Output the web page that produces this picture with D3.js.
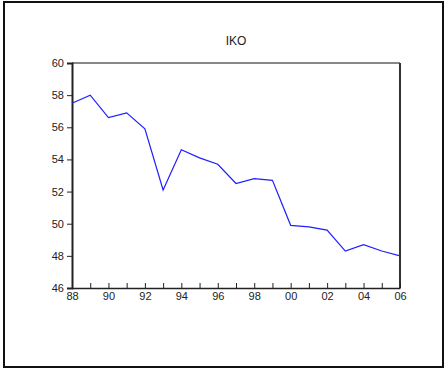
<!DOCTYPE html>
<html>
<head>
<meta charset="utf-8">
<script src="https://cdn.jsdelivr.net/npm/d3@7"></script>
<style>
  html, body { margin: 0; padding: 0; background: #fff; }
  svg { display: block; }
  text { font-family: "Liberation Sans", Arial, sans-serif; fill: #222; }
</style>
</head>
<body>
<svg id="chart" width="445" height="371"></svg>
<script>
const title = "IKO";
const years = [1988, 1989, 1990, 1991, 1992, 1993, 1994, 1995, 1996, 1997, 1998, 1999, 2000, 2001, 2002, 2003, 2004, 2005, 2006];
const values = [57.5, 58.0, 56.6, 56.9, 55.9, 52.1, 54.6, 54.1, 53.7, 52.5, 52.8, 52.7, 49.9, 49.8, 49.6, 48.3, 48.7, 48.3, 48.0];
const yTicks = [46, 48, 50, 52, 54, 56, 58, 60];
const xLabelYears = [1988, 1990, 1992, 1994, 1996, 1998, 2000, 2002, 2004, 2006];

const svg = d3.select("#chart");

// outer frame
svg.append("rect").attr("x", 4).attr("y", 2).attr("width", 439).attr("height", 365)
  .attr("fill", "none").attr("stroke", "#111").attr("stroke-width", 2);

const L = 72, R = 400, T = 63, B = 288;
const x = d3.scaleLinear().domain([1988, 2006]).range([L, R]);
const y = d3.scaleLinear().domain([46, 60]).range([B, T]);

// title
svg.append("text").attr("x", (L + R) / 2).attr("y", 45).attr("text-anchor", "middle")
  .attr("font-size", 12).text(title);

// frame top/right
svg.append("line").attr("x1", L).attr("x2", R).attr("y1", T).attr("y2", T)
  .attr("stroke", "#111").attr("stroke-width", 1);
svg.append("line").attr("x1", R).attr("x2", R).attr("y1", T).attr("y2", B)
  .attr("stroke", "#333").attr("stroke-width", 2);

// y axis
const yAxis = d3.axisLeft(y).tickValues(yTicks).tickSize(5).tickPadding(3).tickFormat(d3.format("d"));
const gy = svg.append("g").attr("transform", `translate(${L},0)`).call(yAxis);
gy.select(".domain").attr("stroke", "#222").attr("stroke-width", 2);
gy.selectAll(".tick line").attr("stroke", "#222");
gy.selectAll(".tick text").attr("font-size", 11).attr("font-family", "Liberation Sans, Arial, sans-serif").attr("fill", "#222");

// x axis: ticks every year pointing inward, labels every 2 years
const xAxis = d3.axisBottom(x).tickValues(years).tickSize(-5).tickSizeOuter(0)
  .tickFormat(d => xLabelYears.includes(d) ? String(d % 100).padStart(2, "0") : "");
const gx = svg.append("g").attr("transform", `translate(0,${B})`).call(xAxis);
gx.select(".domain").attr("stroke", "#222").attr("stroke-width", 1.5);
gx.selectAll(".tick line").attr("stroke", "#222");
gx.selectAll(".tick text").attr("y", 4).attr("font-size", 11).attr("font-family", "Liberation Sans, Arial, sans-serif").attr("fill", "#222");

// line
const line = d3.line().x((d, i) => x(years[i])).y(d => y(d));
svg.append("path").datum(values).attr("d", line)
  .attr("fill", "none").attr("stroke", "#1f1fff").attr("stroke-width", 1.2);
</script>
</body>
</html>
